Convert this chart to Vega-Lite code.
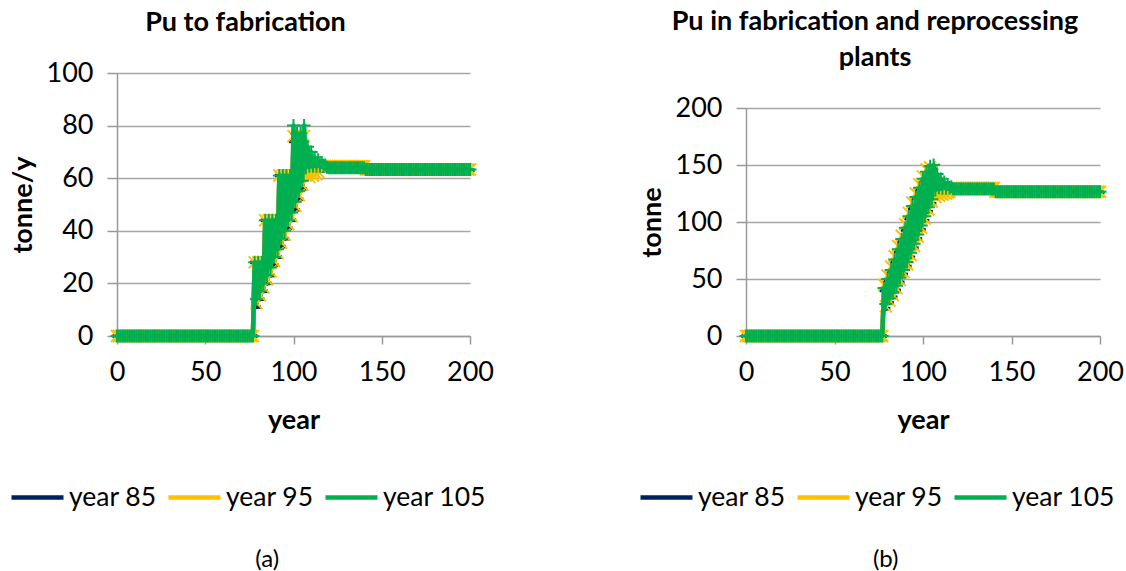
{
"$schema": "https://vega.github.io/schema/vega-lite/v6.json",
"background": "white",
"padding": {"left": 9, "top": 8, "right": 0, "bottom": 0},
"config": {
 "view": {"stroke": null},
 "font": "Lato",
 "axis": {"labelFont": "Lato", "labelFontSize": 27, "labelColor": "#000", "labelFlush": false, "titleFont": "Lato", "titleFontSize": 27, "titleFontWeight": "bold", "titleColor": "#000", "domainColor": "#999", "domainWidth": 1.5, "gridColor": "#a6a6a6", "gridWidth": 1.3, "tickColor": "#999", "tickWidth": 1.5},
 "axisX": {"grid": false, "tickSize": 8, "labelPadding": 15, "titlePadding": 22},
 "axisY": {"grid": true, "tickSize": 10, "labelPadding": 14, "titlePadding": 9},
 "title": {"font": "Lato", "fontSize": 27, "fontWeight": "bold", "color": "#000", "anchor": "middle"},
 "line": {"strokeWidth": 4.5, "strokeJoin": "round", "strokeCap": "round"}
},
"data": {"values": [
{"t":0,"a85":0,"a95":0,"a105":0,"b85":0,"b95":0,"b105":0},
{"t":1,"a85":0,"a95":0,"a105":0,"b85":0,"b95":0,"b105":0},
{"t":2,"a85":0,"a95":0,"a105":0,"b85":0,"b95":0,"b105":0},
{"t":3,"a85":0,"a95":0,"a105":0,"b85":0,"b95":0,"b105":0},
{"t":4,"a85":0,"a95":0,"a105":0,"b85":0,"b95":0,"b105":0},
{"t":5,"a85":0,"a95":0,"a105":0,"b85":0,"b95":0,"b105":0},
{"t":6,"a85":0,"a95":0,"a105":0,"b85":0,"b95":0,"b105":0},
{"t":7,"a85":0,"a95":0,"a105":0,"b85":0,"b95":0,"b105":0},
{"t":8,"a85":0,"a95":0,"a105":0,"b85":0,"b95":0,"b105":0},
{"t":9,"a85":0,"a95":0,"a105":0,"b85":0,"b95":0,"b105":0},
{"t":10,"a85":0,"a95":0,"a105":0,"b85":0,"b95":0,"b105":0},
{"t":11,"a85":0,"a95":0,"a105":0,"b85":0,"b95":0,"b105":0},
{"t":12,"a85":0,"a95":0,"a105":0,"b85":0,"b95":0,"b105":0},
{"t":13,"a85":0,"a95":0,"a105":0,"b85":0,"b95":0,"b105":0},
{"t":14,"a85":0,"a95":0,"a105":0,"b85":0,"b95":0,"b105":0},
{"t":15,"a85":0,"a95":0,"a105":0,"b85":0,"b95":0,"b105":0},
{"t":16,"a85":0,"a95":0,"a105":0,"b85":0,"b95":0,"b105":0},
{"t":17,"a85":0,"a95":0,"a105":0,"b85":0,"b95":0,"b105":0},
{"t":18,"a85":0,"a95":0,"a105":0,"b85":0,"b95":0,"b105":0},
{"t":19,"a85":0,"a95":0,"a105":0,"b85":0,"b95":0,"b105":0},
{"t":20,"a85":0,"a95":0,"a105":0,"b85":0,"b95":0,"b105":0},
{"t":21,"a85":0,"a95":0,"a105":0,"b85":0,"b95":0,"b105":0},
{"t":22,"a85":0,"a95":0,"a105":0,"b85":0,"b95":0,"b105":0},
{"t":23,"a85":0,"a95":0,"a105":0,"b85":0,"b95":0,"b105":0},
{"t":24,"a85":0,"a95":0,"a105":0,"b85":0,"b95":0,"b105":0},
{"t":25,"a85":0,"a95":0,"a105":0,"b85":0,"b95":0,"b105":0},
{"t":26,"a85":0,"a95":0,"a105":0,"b85":0,"b95":0,"b105":0},
{"t":27,"a85":0,"a95":0,"a105":0,"b85":0,"b95":0,"b105":0},
{"t":28,"a85":0,"a95":0,"a105":0,"b85":0,"b95":0,"b105":0},
{"t":29,"a85":0,"a95":0,"a105":0,"b85":0,"b95":0,"b105":0},
{"t":30,"a85":0,"a95":0,"a105":0,"b85":0,"b95":0,"b105":0},
{"t":31,"a85":0,"a95":0,"a105":0,"b85":0,"b95":0,"b105":0},
{"t":32,"a85":0,"a95":0,"a105":0,"b85":0,"b95":0,"b105":0},
{"t":33,"a85":0,"a95":0,"a105":0,"b85":0,"b95":0,"b105":0},
{"t":34,"a85":0,"a95":0,"a105":0,"b85":0,"b95":0,"b105":0},
{"t":35,"a85":0,"a95":0,"a105":0,"b85":0,"b95":0,"b105":0},
{"t":36,"a85":0,"a95":0,"a105":0,"b85":0,"b95":0,"b105":0},
{"t":37,"a85":0,"a95":0,"a105":0,"b85":0,"b95":0,"b105":0},
{"t":38,"a85":0,"a95":0,"a105":0,"b85":0,"b95":0,"b105":0},
{"t":39,"a85":0,"a95":0,"a105":0,"b85":0,"b95":0,"b105":0},
{"t":40,"a85":0,"a95":0,"a105":0,"b85":0,"b95":0,"b105":0},
{"t":41,"a85":0,"a95":0,"a105":0,"b85":0,"b95":0,"b105":0},
{"t":42,"a85":0,"a95":0,"a105":0,"b85":0,"b95":0,"b105":0},
{"t":43,"a85":0,"a95":0,"a105":0,"b85":0,"b95":0,"b105":0},
{"t":44,"a85":0,"a95":0,"a105":0,"b85":0,"b95":0,"b105":0},
{"t":45,"a85":0,"a95":0,"a105":0,"b85":0,"b95":0,"b105":0},
{"t":46,"a85":0,"a95":0,"a105":0,"b85":0,"b95":0,"b105":0},
{"t":47,"a85":0,"a95":0,"a105":0,"b85":0,"b95":0,"b105":0},
{"t":48,"a85":0,"a95":0,"a105":0,"b85":0,"b95":0,"b105":0},
{"t":49,"a85":0,"a95":0,"a105":0,"b85":0,"b95":0,"b105":0},
{"t":50,"a85":0,"a95":0,"a105":0,"b85":0,"b95":0,"b105":0},
{"t":51,"a85":0,"a95":0,"a105":0,"b85":0,"b95":0,"b105":0},
{"t":52,"a85":0,"a95":0,"a105":0,"b85":0,"b95":0,"b105":0},
{"t":53,"a85":0,"a95":0,"a105":0,"b85":0,"b95":0,"b105":0},
{"t":54,"a85":0,"a95":0,"a105":0,"b85":0,"b95":0,"b105":0},
{"t":55,"a85":0,"a95":0,"a105":0,"b85":0,"b95":0,"b105":0},
{"t":56,"a85":0,"a95":0,"a105":0,"b85":0,"b95":0,"b105":0},
{"t":57,"a85":0,"a95":0,"a105":0,"b85":0,"b95":0,"b105":0},
{"t":58,"a85":0,"a95":0,"a105":0,"b85":0,"b95":0,"b105":0},
{"t":59,"a85":0,"a95":0,"a105":0,"b85":0,"b95":0,"b105":0},
{"t":60,"a85":0,"a95":0,"a105":0,"b85":0,"b95":0,"b105":0},
{"t":61,"a85":0,"a95":0,"a105":0,"b85":0,"b95":0,"b105":0},
{"t":62,"a85":0,"a95":0,"a105":0,"b85":0,"b95":0,"b105":0},
{"t":63,"a85":0,"a95":0,"a105":0,"b85":0,"b95":0,"b105":0},
{"t":64,"a85":0,"a95":0,"a105":0,"b85":0,"b95":0,"b105":0},
{"t":65,"a85":0,"a95":0,"a105":0,"b85":0,"b95":0,"b105":0},
{"t":66,"a85":0,"a95":0,"a105":0,"b85":0,"b95":0,"b105":0},
{"t":67,"a85":0,"a95":0,"a105":0,"b85":0,"b95":0,"b105":0},
{"t":68,"a85":0,"a95":0,"a105":0,"b85":0,"b95":0,"b105":0},
{"t":69,"a85":0,"a95":0,"a105":0,"b85":0,"b95":0,"b105":0},
{"t":70,"a85":0,"a95":0,"a105":0,"b85":0,"b95":0,"b105":0},
{"t":71,"a85":0,"a95":0,"a105":0,"b85":0,"b95":0,"b105":0},
{"t":72,"a85":0,"a95":0,"a105":0,"b85":0,"b95":0,"b105":0},
{"t":73,"a85":0,"a95":0,"a105":0,"b85":0,"b95":0,"b105":0},
{"t":74,"a85":0,"a95":0,"a105":0,"b85":0,"b95":0,"b105":0},
{"t":75,"a85":0,"a95":0,"a105":0,"b85":0,"b95":0,"b105":0},
{"t":76,"a85":0,"a95":0,"a105":0,"b85":0,"b95":0,"b105":0},
{"t":77,"a85":0,"a95":0,"a105":0,"b85":0,"b95":0,"b105":0},
{"t":78,"a85":28,"a95":28,"a105":28,"b85":40,"b95":45,"b105":42},
{"t":79,"a85":11,"a95":12.5,"a105":14,"b85":24,"b95":26,"b105":28},
{"t":80,"a85":28,"a95":28,"a105":28,"b85":48,"b95":53,"b105":50},
{"t":81,"a85":14,"a95":15.5,"a105":17,"b85":29,"b95":31,"b105":33},
{"t":82,"a85":28,"a95":28,"a105":28,"b85":56,"b95":61,"b105":58},
{"t":83,"a85":17,"a95":18.5,"a105":20,"b85":34,"b95":36,"b105":38},
{"t":84,"a85":44,"a95":44,"a105":44,"b85":65,"b95":70,"b105":67},
{"t":85,"a85":20,"a95":21.5,"a105":23,"b85":40,"b95":42,"b105":44},
{"t":86,"a85":44,"a95":44,"a105":44,"b85":74,"b95":79,"b105":76},
{"t":87,"a85":23,"a95":24.5,"a105":26,"b85":47,"b95":49,"b105":51},
{"t":88,"a85":44,"a95":44,"a105":44,"b85":83,"b95":88,"b105":85},
{"t":89,"a85":27,"a95":28.5,"a105":30,"b85":54,"b95":56,"b105":58},
{"t":90,"a85":44,"a95":44,"a105":44,"b85":93,"b95":98,"b105":95},
{"t":91,"a85":30,"a95":31.5,"a105":33,"b85":61,"b95":63,"b105":65},
{"t":92,"a85":61,"a95":61,"a105":61,"b85":103,"b95":108,"b105":105},
{"t":93,"a85":34,"a95":35.5,"a105":37,"b85":69,"b95":71,"b105":73},
{"t":94,"a85":61,"a95":61,"a105":61,"b85":112,"b95":117,"b105":114},
{"t":95,"a85":37,"a95":38.5,"a105":40,"b85":77,"b95":79,"b105":81},
{"t":96,"a85":61,"a95":61,"a105":61,"b85":120,"b95":125,"b105":122},
{"t":97,"a85":41,"a95":42.5,"a105":44,"b85":85,"b95":87,"b105":89},
{"t":98,"a85":61,"a95":61,"a105":61,"b85":128,"b95":133,"b105":130},
{"t":99,"a85":44,"a95":45.5,"a105":47,"b85":93,"b95":95,"b105":97},
{"t":100,"a85":74,"a95":76,"a105":80,"b85":136,"b95":140,"b105":138},
{"t":101,"a85":48,"a95":49.5,"a105":51,"b85":101,"b95":103,"b105":105},
{"t":102,"a85":74,"a95":76,"a105":77,"b85":142,"b95":146,"b105":144},
{"t":103,"a85":52,"a95":53.5,"a105":55,"b85":109,"b95":111,"b105":113},
{"t":104,"a85":74,"a95":76,"a105":77,"b85":146,"b95":148,"b105":149},
{"t":105,"a85":56,"a95":57.5,"a105":59,"b85":116,"b95":118,"b105":120},
{"t":106,"a85":74,"a95":76,"a105":80,"b85":146,"b95":146,"b105":150},
{"t":107,"a85":62,"a95":61,"a105":64,"b85":122,"b95":122,"b105":128},
{"t":108,"a85":66,"a95":62,"a105":72,"b85":132,"b95":125,"b105":142},
{"t":109,"a85":63,"a95":60.5,"a105":64.5,"b85":127,"b95":123,"b105":130},
{"t":110,"a85":63,"a95":62,"a105":70,"b85":128,"b95":125,"b105":138},
{"t":111,"a85":63,"a95":61,"a105":64.5,"b85":128,"b95":124,"b105":129.5},
{"t":112,"a85":63,"a95":62,"a105":68,"b85":128,"b95":125.5,"b105":135},
{"t":113,"a85":63,"a95":61.5,"a105":64.5,"b85":128,"b95":125,"b105":129.5},
{"t":114,"a85":63,"a95":62.5,"a105":67,"b85":128,"b95":126,"b105":133},
{"t":115,"a85":63,"a95":64.5,"a105":64.5,"b85":128,"b95":126.5,"b105":129.5},
{"t":116,"a85":63,"a95":64.6,"a105":66,"b85":128,"b95":129.8,"b105":131},
{"t":117,"a85":63,"a95":64.6,"a105":64.5,"b85":128,"b95":129.8,"b105":129.2},
{"t":118,"a85":63,"a95":64.6,"a105":65,"b85":128,"b95":129.8,"b105":129},
{"t":119,"a85":63,"a95":64.6,"a105":64.2,"b85":128,"b95":129.8,"b105":129},
{"t":120,"a85":63,"a95":64.6,"a105":64,"b85":128,"b95":129.8,"b105":129},
{"t":121,"a85":63,"a95":64.6,"a105":64,"b85":128,"b95":129.8,"b105":129},
{"t":122,"a85":63,"a95":64.6,"a105":64,"b85":128,"b95":129.8,"b105":129},
{"t":123,"a85":63,"a95":64.6,"a105":64,"b85":128,"b95":129.8,"b105":129},
{"t":124,"a85":63,"a95":64.6,"a105":64,"b85":128,"b95":129.8,"b105":129},
{"t":125,"a85":63,"a95":64.6,"a105":64,"b85":128,"b95":129.8,"b105":129},
{"t":126,"a85":63,"a95":64.6,"a105":64,"b85":128,"b95":129.8,"b105":129},
{"t":127,"a85":63,"a95":64.6,"a105":64,"b85":128,"b95":129.8,"b105":129},
{"t":128,"a85":63,"a95":64.6,"a105":64,"b85":128,"b95":129.8,"b105":129},
{"t":129,"a85":63,"a95":64.6,"a105":64,"b85":128,"b95":129.8,"b105":129},
{"t":130,"a85":63,"a95":64.6,"a105":64,"b85":128,"b95":129.8,"b105":129},
{"t":131,"a85":63,"a95":64.6,"a105":64,"b85":128,"b95":129.8,"b105":129},
{"t":132,"a85":63,"a95":64.6,"a105":64,"b85":128,"b95":129.8,"b105":129},
{"t":133,"a85":63,"a95":64.6,"a105":64,"b85":128,"b95":129.8,"b105":129},
{"t":134,"a85":63,"a95":64.6,"a105":64,"b85":128,"b95":129.8,"b105":129},
{"t":135,"a85":63,"a95":64.6,"a105":64,"b85":128,"b95":129.8,"b105":129},
{"t":136,"a85":63,"a95":64.6,"a105":64,"b85":128,"b95":129.8,"b105":129},
{"t":137,"a85":63,"a95":64.6,"a105":64,"b85":128,"b95":129.8,"b105":129},
{"t":138,"a85":63,"a95":64.6,"a105":64,"b85":128,"b95":129.8,"b105":129},
{"t":139,"a85":63,"a95":64.6,"a105":64,"b85":128,"b95":129.8,"b105":129},
{"t":140,"a85":63,"a95":64.6,"a105":64,"b85":128,"b95":129.8,"b105":129},
{"t":141,"a85":63,"a95":63.3,"a105":63.3,"b85":126,"b95":126.5,"b105":126.5},
{"t":142,"a85":63,"a95":63.3,"a105":63.3,"b85":126,"b95":126.5,"b105":126.5},
{"t":143,"a85":63,"a95":63.3,"a105":63.3,"b85":126,"b95":126.5,"b105":126.5},
{"t":144,"a85":63,"a95":63.3,"a105":63.3,"b85":126,"b95":126.5,"b105":126.5},
{"t":145,"a85":63,"a95":63.3,"a105":63.3,"b85":126,"b95":126.5,"b105":126.5},
{"t":146,"a85":63,"a95":63.3,"a105":63.3,"b85":126,"b95":126.5,"b105":126.5},
{"t":147,"a85":63,"a95":63.3,"a105":63.3,"b85":126,"b95":126.5,"b105":126.5},
{"t":148,"a85":63,"a95":63.3,"a105":63.3,"b85":126,"b95":126.5,"b105":126.5},
{"t":149,"a85":63,"a95":63.3,"a105":63.3,"b85":126,"b95":126.5,"b105":126.5},
{"t":150,"a85":63,"a95":63.3,"a105":63.3,"b85":126,"b95":126.5,"b105":126.5},
{"t":151,"a85":63,"a95":63.3,"a105":63.3,"b85":126,"b95":126.5,"b105":126.5},
{"t":152,"a85":63,"a95":63.3,"a105":63.3,"b85":126,"b95":126.5,"b105":126.5},
{"t":153,"a85":63,"a95":63.3,"a105":63.3,"b85":126,"b95":126.5,"b105":126.5},
{"t":154,"a85":63,"a95":63.3,"a105":63.3,"b85":126,"b95":126.5,"b105":126.5},
{"t":155,"a85":63,"a95":63.3,"a105":63.3,"b85":126,"b95":126.5,"b105":126.5},
{"t":156,"a85":63,"a95":63.3,"a105":63.3,"b85":126,"b95":126.5,"b105":126.5},
{"t":157,"a85":63,"a95":63.3,"a105":63.3,"b85":126,"b95":126.5,"b105":126.5},
{"t":158,"a85":63,"a95":63.3,"a105":63.3,"b85":126,"b95":126.5,"b105":126.5},
{"t":159,"a85":63,"a95":63.3,"a105":63.3,"b85":126,"b95":126.5,"b105":126.5},
{"t":160,"a85":63,"a95":63.3,"a105":63.3,"b85":126,"b95":126.5,"b105":126.5},
{"t":161,"a85":63,"a95":63.3,"a105":63.3,"b85":126,"b95":126.5,"b105":126.5},
{"t":162,"a85":63,"a95":63.3,"a105":63.3,"b85":126,"b95":126.5,"b105":126.5},
{"t":163,"a85":63,"a95":63.3,"a105":63.3,"b85":126,"b95":126.5,"b105":126.5},
{"t":164,"a85":63,"a95":63.3,"a105":63.3,"b85":126,"b95":126.5,"b105":126.5},
{"t":165,"a85":63,"a95":63.3,"a105":63.3,"b85":126,"b95":126.5,"b105":126.5},
{"t":166,"a85":63,"a95":63.3,"a105":63.3,"b85":126,"b95":126.5,"b105":126.5},
{"t":167,"a85":63,"a95":63.3,"a105":63.3,"b85":126,"b95":126.5,"b105":126.5},
{"t":168,"a85":63,"a95":63.3,"a105":63.3,"b85":126,"b95":126.5,"b105":126.5},
{"t":169,"a85":63,"a95":63.3,"a105":63.3,"b85":126,"b95":126.5,"b105":126.5},
{"t":170,"a85":63,"a95":63.3,"a105":63.3,"b85":126,"b95":126.5,"b105":126.5},
{"t":171,"a85":63,"a95":63.3,"a105":63.3,"b85":126,"b95":126.5,"b105":126.5},
{"t":172,"a85":63,"a95":63.3,"a105":63.3,"b85":126,"b95":126.5,"b105":126.5},
{"t":173,"a85":63,"a95":63.3,"a105":63.3,"b85":126,"b95":126.5,"b105":126.5},
{"t":174,"a85":63,"a95":63.3,"a105":63.3,"b85":126,"b95":126.5,"b105":126.5},
{"t":175,"a85":63,"a95":63.3,"a105":63.3,"b85":126,"b95":126.5,"b105":126.5},
{"t":176,"a85":63,"a95":63.3,"a105":63.3,"b85":126,"b95":126.5,"b105":126.5},
{"t":177,"a85":63,"a95":63.3,"a105":63.3,"b85":126,"b95":126.5,"b105":126.5},
{"t":178,"a85":63,"a95":63.3,"a105":63.3,"b85":126,"b95":126.5,"b105":126.5},
{"t":179,"a85":63,"a95":63.3,"a105":63.3,"b85":126,"b95":126.5,"b105":126.5},
{"t":180,"a85":63,"a95":63.3,"a105":63.3,"b85":126,"b95":126.5,"b105":126.5},
{"t":181,"a85":63,"a95":63.3,"a105":63.3,"b85":126,"b95":126.5,"b105":126.5},
{"t":182,"a85":63,"a95":63.3,"a105":63.3,"b85":126,"b95":126.5,"b105":126.5},
{"t":183,"a85":63,"a95":63.3,"a105":63.3,"b85":126,"b95":126.5,"b105":126.5},
{"t":184,"a85":63,"a95":63.3,"a105":63.3,"b85":126,"b95":126.5,"b105":126.5},
{"t":185,"a85":63,"a95":63.3,"a105":63.3,"b85":126,"b95":126.5,"b105":126.5},
{"t":186,"a85":63,"a95":63.3,"a105":63.3,"b85":126,"b95":126.5,"b105":126.5},
{"t":187,"a85":63,"a95":63.3,"a105":63.3,"b85":126,"b95":126.5,"b105":126.5},
{"t":188,"a85":63,"a95":63.3,"a105":63.3,"b85":126,"b95":126.5,"b105":126.5},
{"t":189,"a85":63,"a95":63.3,"a105":63.3,"b85":126,"b95":126.5,"b105":126.5},
{"t":190,"a85":63,"a95":63.3,"a105":63.3,"b85":126,"b95":126.5,"b105":126.5},
{"t":191,"a85":63,"a95":63.3,"a105":63.3,"b85":126,"b95":126.5,"b105":126.5},
{"t":192,"a85":63,"a95":63.3,"a105":63.3,"b85":126,"b95":126.5,"b105":126.5},
{"t":193,"a85":63,"a95":63.3,"a105":63.3,"b85":126,"b95":126.5,"b105":126.5},
{"t":194,"a85":63,"a95":63.3,"a105":63.3,"b85":126,"b95":126.5,"b105":126.5},
{"t":195,"a85":63,"a95":63.3,"a105":63.3,"b85":126,"b95":126.5,"b105":126.5},
{"t":196,"a85":63,"a95":63.3,"a105":63.3,"b85":126,"b95":126.5,"b105":126.5},
{"t":197,"a85":63,"a95":63.3,"a105":63.3,"b85":126,"b95":126.5,"b105":126.5},
{"t":198,"a85":63,"a95":63.3,"a105":63.3,"b85":126,"b95":126.5,"b105":126.5},
{"t":199,"a85":63,"a95":63.3,"a105":63.3,"b85":126,"b95":126.5,"b105":126.5},
{"t":200,"a85":63,"a95":63.3,"a105":63.3,"b85":126,"b95":126.5,"b105":126.5}
]},
"hconcat": [
 {
  "vconcat": [
   {
    "width": 353, "height": 263,
    "title": {"text": "Pu to fabrication", "offset": 22, "dx": -48},
    "encoding": {"x": {"field": "t", "type": "quantitative", "scale": {"domain": [0, 200], "nice": false}, "axis": {"values": [0, 50, 100, 150, 200], "title": "year"}}},
    "layer": [
     {"mark": {"type": "line", "point": {"shape": "M-1,-0.4H1V0.4H-1Z", "size": 81, "filled": true}},
      "encoding": {"y": {"field": "a85", "type": "quantitative", "scale": {"domain": [0, 100], "nice": false}, "axis": {"values": [0, 20, 40, 60, 80, 100]}, "title": "tonne/y"},
       "color": {"datum": "year 85", "type": "nominal", "scale": {"domain": ["year 85", "year 95", "year 105"], "range": ["#002060", "#FFC000", "#00B050"]},
        "legend": {"orient": "none", "legendX": -108, "legendY": 396, "direction": "horizontal", "title": null, "symbolType": "stroke", "symbolSize": 2704, "symbolStrokeWidth": 4.5, "labelFont": "Lato", "labelFontSize": 26.5, "labelColor": "#000", "labelOffset": 3, "columnPadding": 9, "padding": 0}}}},
     {"mark": {"type": "line", "point": {"shape": "M-1,-1L1,1M-1,1L1,-1", "size": 144, "filled": false, "strokeWidth": 2}},
      "encoding": {"y": {"field": "a95", "type": "quantitative", "title": "tonne/y"}, "color": {"datum": "year 95", "type": "nominal"}}},
     {"mark": {"type": "line", "point": {"shape": "M-1,0H1M0,-1V1", "size": 169, "filled": false, "strokeWidth": 2}},
      "encoding": {"y": {"field": "a105", "type": "quantitative", "title": "tonne/y"}, "color": {"datum": "year 105", "type": "nominal"}}}
    ]
   }
  ],
  "bounds": "flush",
  "resolve": {"scale": {"color": "independent"}, "legend": {"color": "independent"}},
  "title": {"text": "(a)", "orient": "bottom", "fontWeight": "normal", "fontSize": 24, "offset": 37, "dx": 16}
 },
 {
  "vconcat": [
   {
    "width": 354, "height": 35,
    "data": {"values": []},
    "mark": "point",
    "title": {"text": ["Pu in fabrication and reprocessing", "plants"], "offset": 1, "lineHeight": 36, "dx": -48}
   },
   {
    "width": 354, "height": 228,
    "encoding": {"x": {"field": "t", "type": "quantitative", "scale": {"domain": [0, 200], "nice": false}, "axis": {"values": [0, 50, 100, 150, 200], "title": "year"}}},
    "layer": [
     {"mark": {"type": "line", "point": {"shape": "M-1,-0.4H1V0.4H-1Z", "size": 81, "filled": true}},
      "encoding": {"y": {"field": "b85", "type": "quantitative", "scale": {"domain": [0, 200], "nice": false}, "axis": {"values": [0, 50, 100, 150, 200]}, "title": "tonne"},
       "color": {"datum": "year 85", "type": "nominal", "scale": {"domain": ["year 85", "year 95", "year 105"], "range": ["#002060", "#FFC000", "#00B050"]},
        "legend": {"orient": "none", "legendX": -108, "legendY": 361, "direction": "horizontal", "title": null, "symbolType": "stroke", "symbolSize": 2704, "symbolStrokeWidth": 4.5, "labelFont": "Lato", "labelFontSize": 26.5, "labelColor": "#000", "labelOffset": 3, "columnPadding": 9, "padding": 0}}}},
     {"mark": {"type": "line", "point": {"shape": "M-1,-1L1,1M-1,1L1,-1", "size": 144, "filled": false, "strokeWidth": 2}},
      "encoding": {"y": {"field": "b95", "type": "quantitative", "title": "tonne"}, "color": {"datum": "year 95", "type": "nominal"}}},
     {"mark": {"type": "line", "point": {"shape": "M-1,0H1M0,-1V1", "size": 169, "filled": false, "strokeWidth": 2}},
      "encoding": {"y": {"field": "b105", "type": "quantitative", "title": "tonne"}, "color": {"datum": "year 105", "type": "nominal"}}}
    ]
   }
  ],
  "spacing": 0,
  "bounds": "flush",
  "resolve": {"scale": {"color": "independent"}, "legend": {"color": "independent"}},
  "title": {"text": "(b)", "orient": "bottom", "fontWeight": "normal", "fontSize": 24, "offset": 37, "dx": 5}
 }
],
"spacing": 144,
"align": "none",
"bounds": "full",
"resolve": {"scale": {"color": "independent"}, "legend": {"color": "independent"}}
}
